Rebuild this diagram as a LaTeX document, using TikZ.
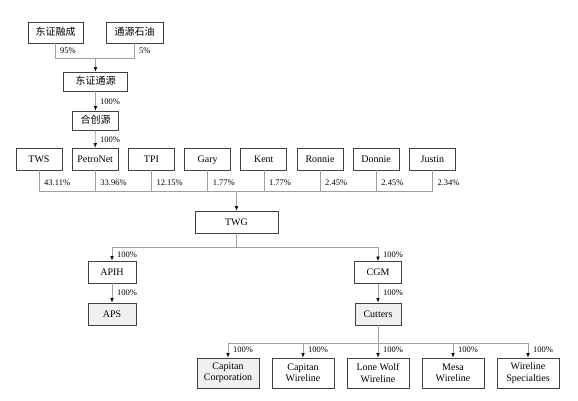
\documentclass[tikz,border=0pt]{standalone}
\usepackage{fontspec}
\setmainfont{Liberation Serif}
\newfontfamily\cjk{Noto Sans CJK SC}
\usetikzlibrary{arrows.meta}
\definecolor{bordc}{HTML}{404040}
\definecolor{linec}{HTML}{A0A0A0}
\definecolor{fillc}{HTML}{F0F0F0}
\begin{document}
\begin{tikzpicture}[x=1pt,y=-1pt,
  basebox/.style={draw=bordc,line width=0.7pt,fill=white,inner sep=0pt,align=center,font=\fontsize{10}{11.5}\selectfont},
  box/.style={basebox,minimum height=22pt,text height=8.2pt,text depth=1.8pt},
  gbox/.style={box,fill=fillc},
  tbox/.style={basebox,minimum width=62pt,minimum height=30pt},
  conn/.style={draw=linec,line width=0.6pt},
  arr/.style={conn,-{Latex[length=4.5pt,width=3.5pt,color=black]}},
  pct/.style={anchor=west,inner sep=0pt,font=\fontsize{8.5}{10}\selectfont}]
\useasboundingbox (0,0) rectangle (578,401);
% top
\node[box,minimum width=55pt,minimum height=21pt] (dzrc) at (55.5,32.5) {\cjk 东证融成};
\node[box,minimum width=57pt,minimum height=21pt] (tysy) at (134.5,32.5) {\cjk 通源石油};
\node[box,minimum width=64pt,minimum height=19pt] (dzty) at (95.5,81.5) {\cjk 东证通源};
\node[box,minimum width=46pt,minimum height=19pt] (hcy) at (95.5,120.5) {\cjk 合创源};
\coordinate (bus0) at (95.5,58);
\draw[conn] (dzrc.south) |- (bus0);
\draw[conn] (tysy.south) |- (bus0);
\draw[arr] (bus0) -- (dzty.north);
\node[pct] (l95) at (60,51) {95\%};
\node[pct] (l5) at (139,51) {5\%};
\draw[arr] (dzty.south) -- (hcy.north);
\node[pct] (l100a) at (100,102) {100\%};
% row
\foreach \n/\t/\x/\p in {tws/TWS/39/43.11,pnet/PetroNet/95.2/33.96,tpi/TPI/151.4/12.15,gary/Gary/207.6/1.77,kent/Kent/263.8/1.77,ronnie/Ronnie/320/2.45,donnie/Donnie/376.2/2.45,justin/Justin/432.4/2.34}{
  \node[box,minimum width=46pt] (\n) at (\x,159) {\t};
  \node[pct] (p\n) at (\x+5,183) {\p\%};
}
\draw[arr] (hcy.south) -- (pnet.north);
\node[pct] (l100b) at (100,140) {100\%};
\node[box,minimum width=83pt] (twg) at (236.5,222) {TWG};
\coordinate (bus1) at (236.5,191);
\foreach \n in {tws,pnet,tpi,gary,kent,ronnie,donnie,justin}{
  \draw[conn] (\n.south) |- (bus1);
}
\draw[arr] (bus1) -- (twg.north);
% second level
\node[box,minimum width=48pt] (apih) at (112,272) {APIH};
\node[gbox,minimum width=48pt] (aps) at (112,314) {APS};
\node[box,minimum width=47pt] (cgm) at (378,272.5) {CGM};
\node[gbox,minimum width=46pt] (cutters) at (378,314) {Cutters};
\coordinate (bus2) at (236.5,247.5);
\draw[conn] (twg.south) -- (bus2);
\draw[arr] (bus2) -| (apih.north);
\draw[arr] (bus2) -| (cgm.north);
\node[pct] (lapih) at (117,255) {100\%};
\node[pct] (lcgm) at (383,255) {100\%};
\draw[arr] (apih.south) -- (aps.north);
\draw[arr] (cgm.south) -- (cutters.north);
\node[pct] (laps) at (117,293) {100\%};
\node[pct] (lcut) at (383,293) {100\%};
% bottom
\coordinate (bus3) at (378,343);
\draw[conn] (cutters.south) -- (bus3);
\foreach \n/\t/\x/\f in {capc/{Capitan\\Corporation}/228/fillc,capw/{Capitan\\Wireline}/303/white,lone/{Lone Wolf\\Wireline}/378/white,mesa/{Mesa\\Wireline}/453/white,wspec/{Wireline\\Specialties}/528/white}{
  \node[tbox,fill=\f] (\n) at (\x,373) {\t};
  \draw[arr] (bus3) -| (\n.north);
  \node[pct] (l\n) at (\x+5,350) {100\%};
}
\end{tikzpicture}
\end{document}
